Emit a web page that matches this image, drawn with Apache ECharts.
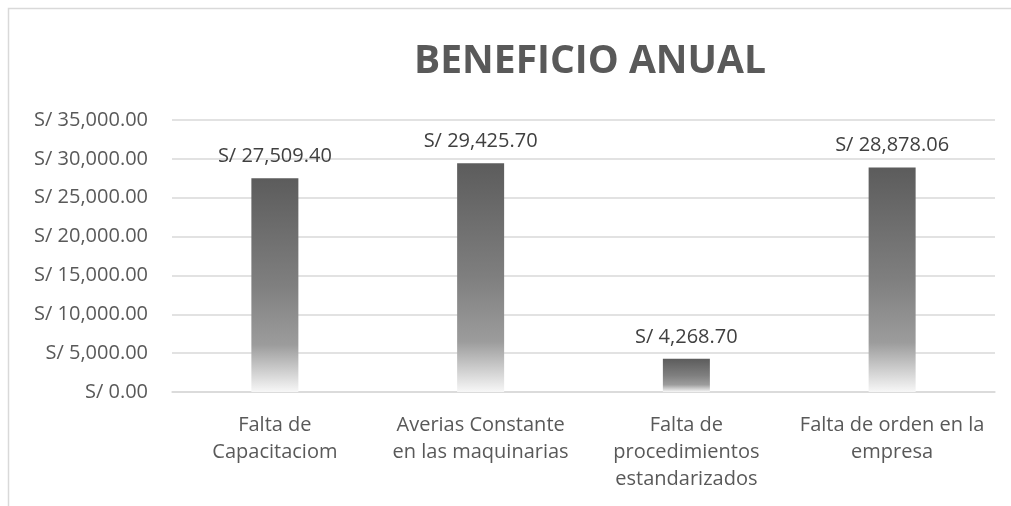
<!DOCTYPE html>
<html>
<head>
<meta charset="utf-8">
<script src="https://cdn.jsdelivr.net/npm/echarts@6/dist/echarts.min.js"></script>
<style>
  html, body { margin: 0; padding: 0; background: #fff; }
  #main { width: 1011px; height: 506px; }
</style>
</head>
<body>
<div id="main"></div>
<script>
var categories = [
  "Falta de\nCapacitaciom",
  "Averias Constante\nen las maquinarias",
  "Falta de\nprocedimientos\nestandarizados",
  "Falta de orden en la\nempresa"
];
var beneficio = [27509.40, 29425.70, 4268.70, 28878.06];
var yMin = 0;
var yMax = 35000;
var yStep = 5000;

function soles(v) {
  return "S/ " + Number(v).toLocaleString("en-US", {
    minimumFractionDigits: 2,
    maximumFractionDigits: 2
  });
}

var chart = echarts.init(document.getElementById("main"));
var font = "'Open Sans', 'Noto Sans', sans-serif";

chart.setOption({
  animation: false,
  textStyle: { fontFamily: font },
  title: {
    text: "BENEFICIO ANUAL",
    left: 585,
    textAlign: "center",
    top: 37,
    textStyle: {
      fontFamily: font,
      fontSize: 39,
      fontWeight: "bold",
      color: "#595959"
    }
  },
  graphic: [
    {
      type: "polyline",
      shape: { points: [[8.5, 506], [8.5, 8.5], [1011, 8.5]] },
      style: { stroke: "#d9d9d9", lineWidth: 1.5, fill: null }
    }
  ],
  grid: { left: 172, right: 16, top: 120, bottom: 114 },
  xAxis: {
    type: "category",
    data: categories,
    axisTick: { show: false },
    axisLine: { lineStyle: { color: "#d9d9d9", width: 1.5 } },
    axisLabel: {
      interval: 0,
      margin: 20,
      fontSize: 20,
      lineHeight: 27,
      color: "#595959",
      fontFamily: font
    }
  },
  yAxis: {
    type: "value",
    min: yMin,
    max: yMax,
    interval: yStep,
    axisLine: { show: false },
    axisTick: { show: false },
    splitLine: { lineStyle: { color: "#d9d9d9", width: 1.5 } },
    axisLabel: {
      margin: 24,
      fontSize: 20,
      color: "#595959",
      fontFamily: font,
      formatter: soles
    }
  },
  series: [
    {
      type: "bar",
      data: beneficio,
      barWidth: 47,
      itemStyle: {
        color: new echarts.graphic.LinearGradient(0, 0, 0, 1, [
          { offset: 0, color: "#5c5c5c" },
          { offset: 0.5, color: "#7f7f7f" },
          { offset: 0.78, color: "#9c9c9c" },
          { offset: 1, color: "#f7f7f7" }
        ])
      },
      label: {
        show: true,
        position: "top",
        distance: 12,
        fontSize: 20,
        color: "#404040",
        fontFamily: font,
        formatter: function (p) { return soles(p.value); }
      }
    }
  ]
});
</script>
</body>
</html>
